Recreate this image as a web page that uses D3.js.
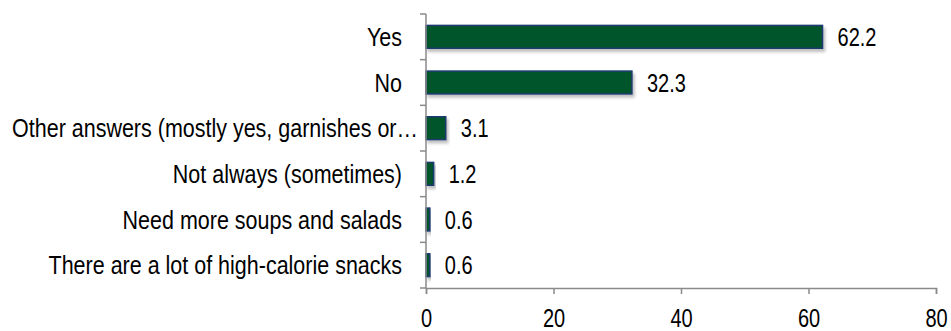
<!DOCTYPE html>
<html>
<head>
    <script src="https://d3js.org/d3.v7.min.js"></script>
    <style>
        body { margin: 0; background: #ffffff; }
        text { font-family: "Liberation Sans", Arial, sans-serif; fill: #000000; }
    </style>
</head>
<body>
<div id="chart"></div>
<script>
    const categories = [
        "Yes",
        "No",
        "Other answers (mostly yes, garnishes or…",
        "Not always (sometimes)",
        "Need more soups and salads",
        "There are a lot of high-calorie snacks"
    ];
    const values = [62.2, 32.3, 3.1, 1.2, 0.6, 0.6];
    const xTicks = [0, 20, 40, 60, 80];

    const width = 951, height = 331;
    const margin = { top: 14, right: 15, bottom: 43, left: 426 };

    // the original uses a narrow face; squeeze a regular one to match
    const fontSize = 25;
    const labelSqueeze = 0.86, numberSqueeze = 0.8;

    const svg = d3.select("#chart").append("svg")
        .attr("width", width)
        .attr("height", height);

    // soft shadow under the bars
    const filter = svg.append("defs").append("filter")
        .attr("id", "shadow")
        .attr("x", "-20%").attr("y", "-20%")
        .attr("width", "140%").attr("height", "160%");
    filter.append("feDropShadow")
        .attr("dx", 2).attr("dy", 3)
        .attr("stdDeviation", 1.5)
        .attr("flood-color", "#000000")
        .attr("flood-opacity", 0.25);

    const x = d3.scaleLinear()
        .domain([0, 80])
        .range([margin.left, width - margin.right]);

    const y = d3.scaleBand()
        .domain(categories)
        .range([margin.top, height - margin.bottom])
        .paddingInner(0.5)
        .paddingOuter(0.25);

    const data = categories.map((c, i) => ({ cat: c, value: values[i] }));

    // bars
    svg.append("g")
        .selectAll("rect")
        .data(data)
        .enter()
        .append("rect")
        .attr("x", x(0))
        .attr("y", d => y(d.cat))
        .attr("width", d => x(d.value) - x(0))
        .attr("height", y.bandwidth())
        .attr("fill", "#03542b")
        .attr("stroke", "#1f3a70")
        .attr("stroke-width", 1.5)
        .attr("filter", "url(#shadow)");

    // value labels
    svg.append("g")
        .selectAll("text")
        .data(data)
        .enter()
        .append("text")
        .attr("transform", d => `translate(${x(d.value) + 15},${y(d.cat) + y.bandwidth() / 2}) scale(${numberSqueeze},1)`)
        .attr("dy", "0.36em")
        .style("font-size", fontSize + "px")
        .text(d => d.value.toFixed(1));

    // y axis: line + ticks on band boundaries
    const axisColor = "#8a8a8a";
    const yAxis = svg.append("g");
    yAxis.append("line")
        .attr("x1", x(0)).attr("x2", x(0))
        .attr("y1", margin.top).attr("y2", height - margin.bottom)
        .attr("stroke", axisColor).attr("stroke-width", 1.5);
    const step = y.step();
    const boundaries = d3.range(categories.length + 1).map(i => margin.top + i * step);
    yAxis.selectAll(".yt")
        .data(boundaries)
        .enter()
        .append("line")
        .attr("x1", x(0) - 6).attr("x2", x(0))
        .attr("y1", d => d).attr("y2", d => d)
        .attr("stroke", axisColor).attr("stroke-width", 1.5);

    // category labels
    yAxis.selectAll(".yl")
        .data(categories)
        .enter()
        .append("text")
        .attr("transform", d => {
            const lx = d.endsWith("…") ? x(0) - 8 : x(0) - 24;
            return `translate(${lx},${y(d) + y.bandwidth() / 2}) scale(${labelSqueeze},1)`;
        })
        .attr("dy", "0.36em")
        .attr("text-anchor", "end")
        .style("font-size", fontSize + "px")
        .text(d => d);

    // x axis
    const xAxis = svg.append("g")
        .attr("transform", `translate(0,${height - margin.bottom})`)
        .call(d3.axisBottom(x).tickValues(xTicks).tickSize(6).tickPadding(15));
    xAxis.select(".domain").attr("stroke", axisColor).attr("stroke-width", 1.5);
    xAxis.selectAll(".tick line").attr("stroke", axisColor).attr("stroke-width", 1.5);
    xAxis.selectAll(".tick text")
        .attr("transform", `scale(${numberSqueeze},1)`)
        .style("font-size", fontSize + "px")
        .style("font-family", "'Liberation Sans', Arial, sans-serif")
        .attr("fill", "#000000");
</script>
</body>
</html>
